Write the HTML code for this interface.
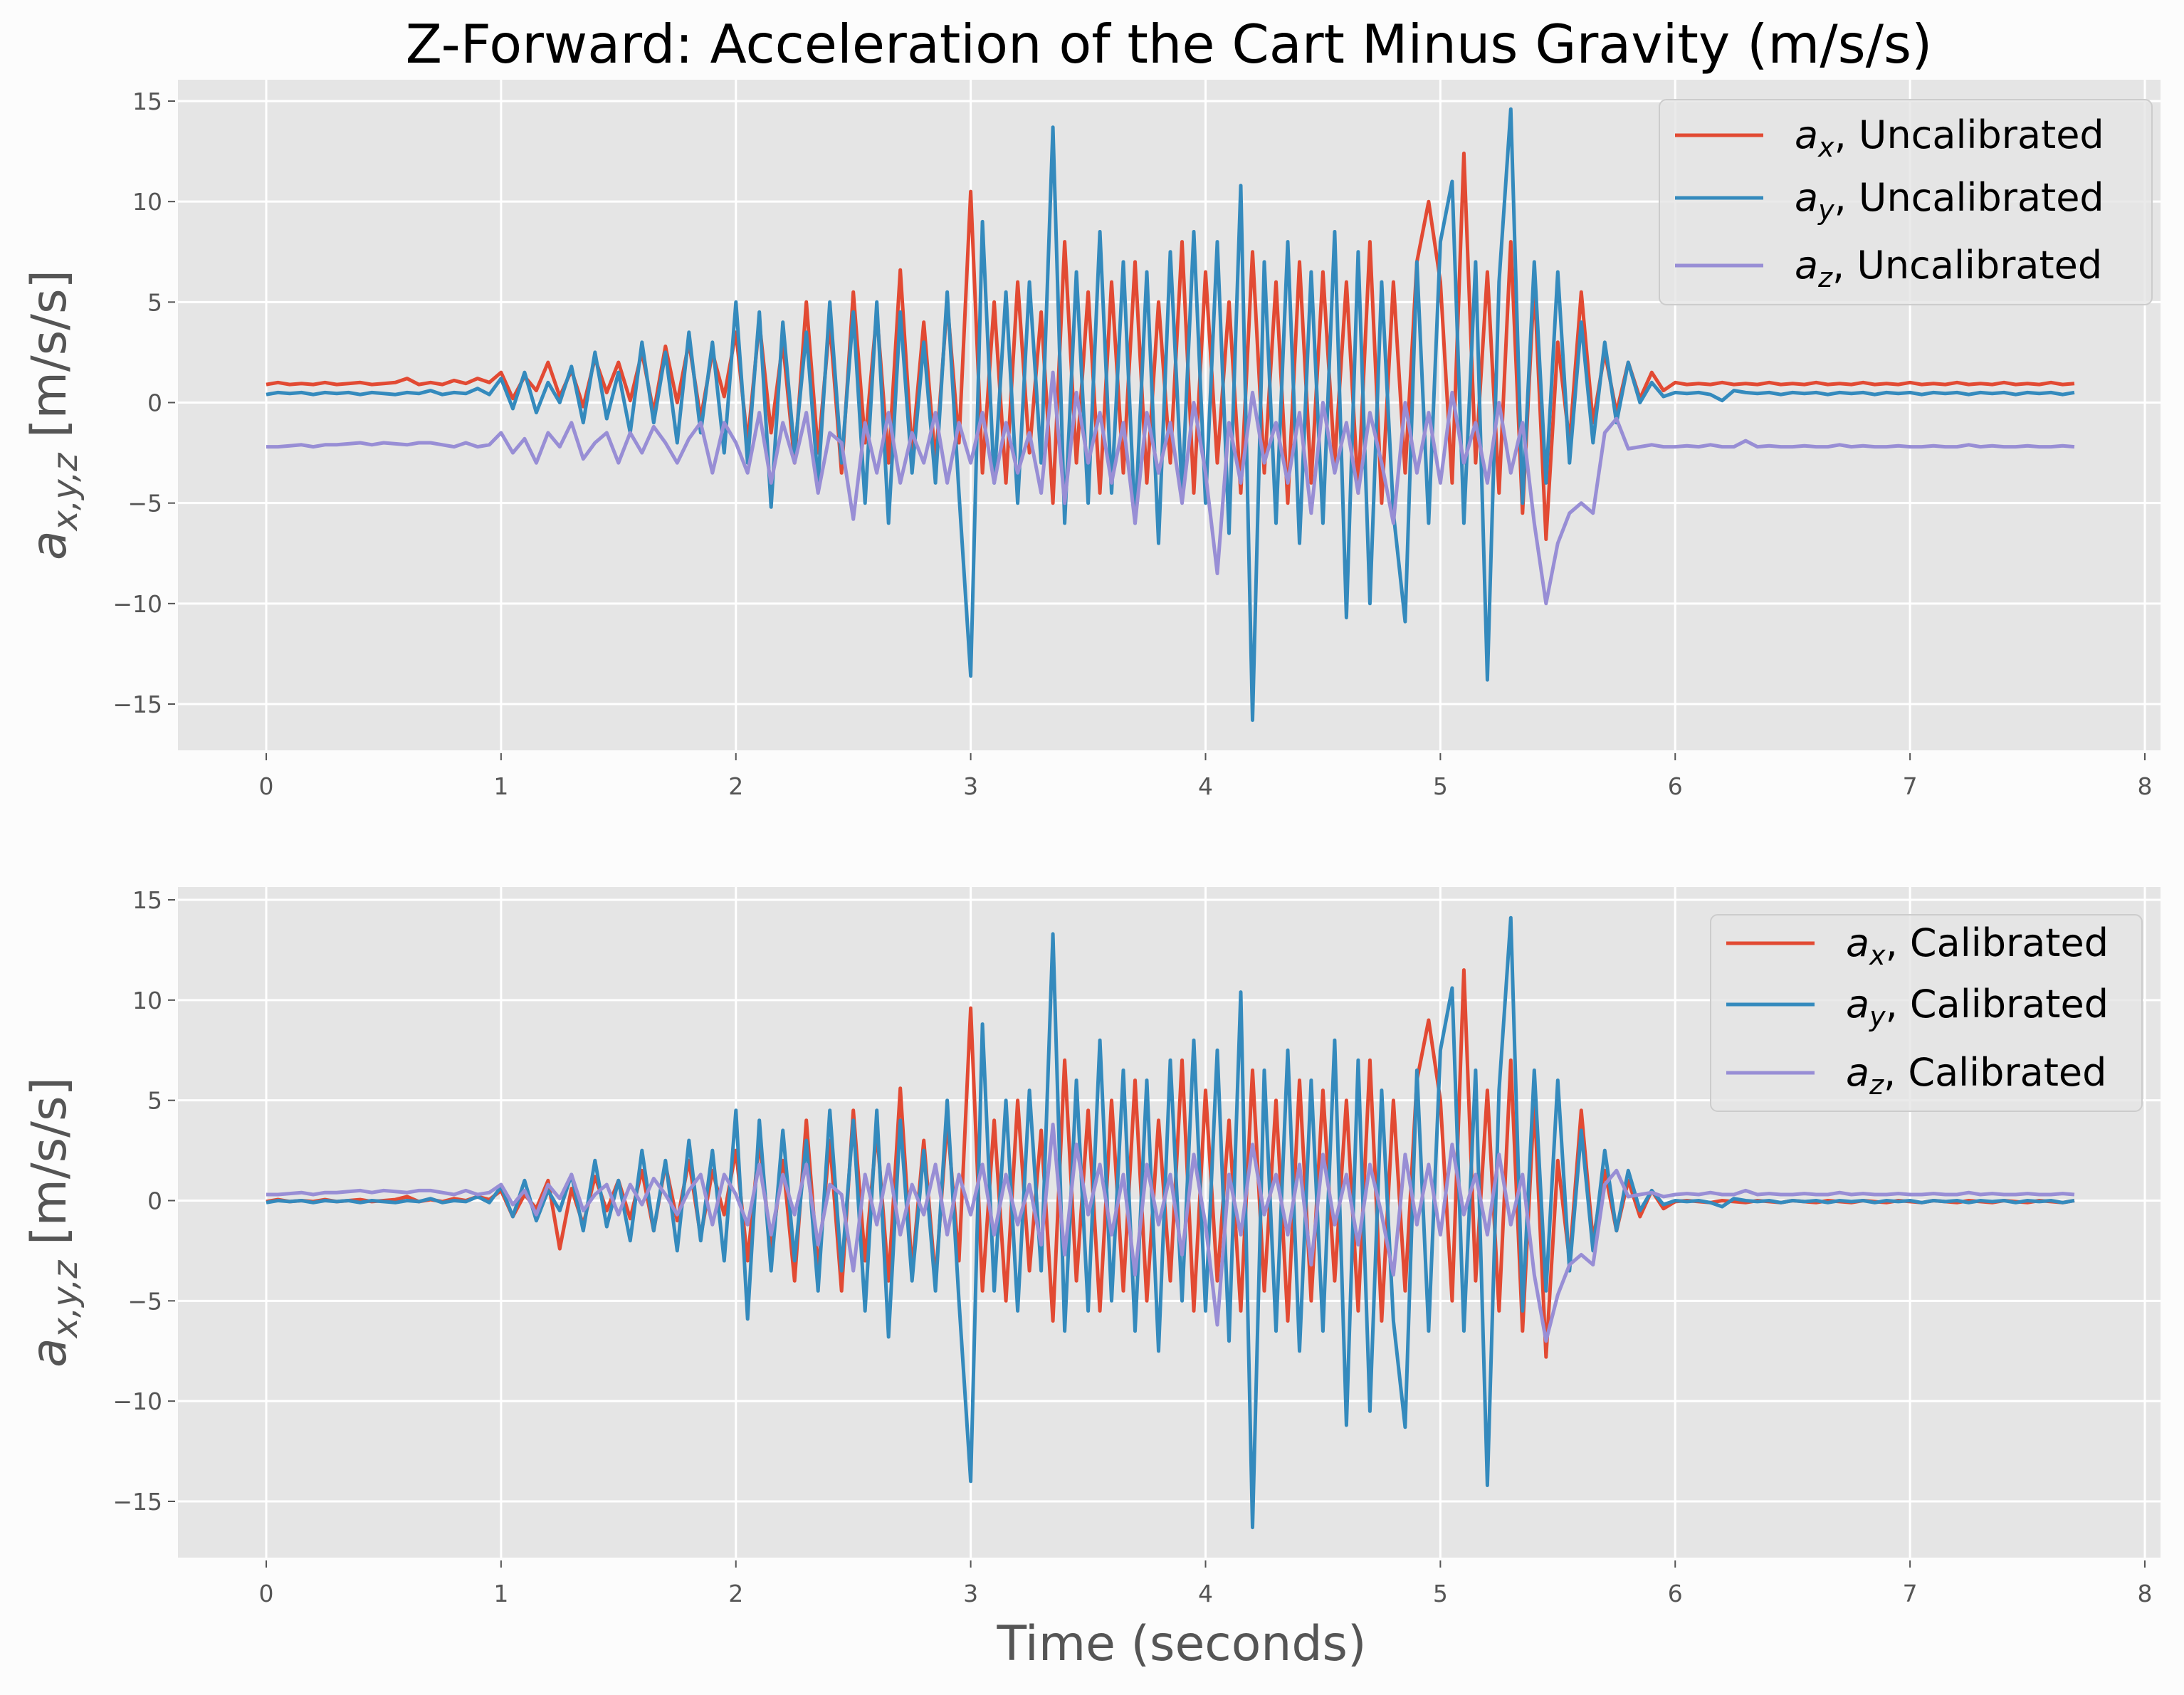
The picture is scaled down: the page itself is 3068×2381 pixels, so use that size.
<!DOCTYPE html>
<html><head><meta charset="utf-8"><style>
html,body{margin:0;padding:0;background:#fcfcfc;}
svg{display:block;font-family:"DejaVu Sans","Liberation Sans",sans-serif;}
</style></head><body>
<svg id="fig" width="3068" height="2381" viewBox="0 0 3068 2381">
<rect width="3068" height="2381" fill="#fcfcfc"/>
<text x="1642" y="88" font-size="75" text-anchor="middle" fill="#000">Z-Forward: Acceleration of the Cart Minus Gravity (m/s/s)</text>
<g id="ax1"></g>
<g id="ax2"></g>
<text x="1660" y="2332" font-size="68" text-anchor="middle" fill="#555">Time (seconds)</text>
</svg>
<script>
const t0 = 0;
const dt = 0.05;
const xTicks = [0,1,2,3,4,5,6,7,8];
const yTicks = [15,10,5,0,-5,-10,-15];
const seriesNamesTop = ["x","y","z"];
const legendSuffixTop = "Uncalibrated";
const legendSuffixBottom = "Calibrated";

const axTop = [0.9,1.0,0.9,0.95,0.9,1.0,0.9,0.95,1.0,0.9,0.95,1.0,1.2,0.9,1.0,0.9,1.1,0.95,1.2,1.0,
1.5,0.2,1.3,0.6,2.0,0.3,1.6,-0.2,2.2,0.5,2.0,0.1,2.5,-0.5,2.8,0.0,3.0,-0.8,2.5,0.3,
3.5,-2.0,4.0,-1.5,3.0,-3.0,5.0,-2.5,4.0,-3.5,5.5,-2.0,4.5,-3.0,6.6,-2.5,4.0,-3.0,5.0,-2.0,
10.5,-3.5,5.0,-4.0,6.0,-2.5,4.5,-5.0,8.0,-3.0,5.5,-4.5,6.0,-3.5,7.0,-4.0,5.0,-3.0,8.0,-4.5,
6.5,-3.0,5.0,-4.5,7.5,-3.5,6.0,-5.0,7.0,-4.0,6.5,-3.0,6.0,-4.5,8.0,-5.0,6.0,-3.5,7.0,10.0,
6.0,-4.0,12.4,-3.0,6.5,-4.5,8.0,-5.5,6.0,-6.8,3.0,-2.0,5.5,-1.0,2.5,-0.5,2.0,0.2,1.5,0.6,
1.0,0.9,0.95,0.9,1.0,0.9,0.95,0.9,1.0,0.9,0.95,0.9,1.0,0.9,0.95,0.9,1.0,0.9,0.95,0.9,
1.0,0.9,0.95,0.9,1.0,0.9,0.95,0.9,1.0,0.9,0.95,0.9,1.0,0.9,0.95];
const ayTop = [0.4,0.5,0.45,0.5,0.4,0.5,0.45,0.5,0.4,0.5,0.45,0.4,0.5,0.45,0.6,0.4,0.5,0.45,0.7,0.4,
1.2,-0.3,1.5,-0.5,1.0,0.0,1.8,-1.0,2.5,-0.8,1.5,-1.5,3.0,-1.0,2.5,-2.0,3.5,-1.5,3.0,-2.5,
5.0,-3.0,4.5,-5.2,4.0,-2.5,3.5,-4.0,5.0,-3.0,4.5,-5.0,5.0,-6.0,4.5,-3.5,3.0,-4.0,5.5,-4.5,
-13.6,9.0,-4.0,5.5,-5.0,6.0,-3.0,13.7,-6.0,6.5,-5.0,8.5,-4.5,7.0,-6.0,6.5,-7.0,7.5,-4.5,8.5,
-5.0,8.0,-6.5,10.8,-15.8,7.0,-6.0,8.0,-7.0,6.5,-6.0,8.5,-10.7,7.5,-10.0,6.0,-5.5,-10.9,7.0,-6.0,
8.0,11.0,-6.0,7.0,-13.8,6.0,14.6,-5.0,7.0,-4.0,6.5,-3.0,4.0,-2.0,3.0,-1.0,2.0,0.0,1.0,0.3,
0.5,0.45,0.5,0.4,0.1,0.6,0.5,0.45,0.5,0.4,0.5,0.45,0.5,0.4,0.5,0.45,0.5,0.4,0.5,0.45,
0.5,0.4,0.5,0.45,0.5,0.4,0.5,0.45,0.5,0.4,0.5,0.45,0.5,0.4,0.5];
const azTop = [-2.2,-2.2,-2.15,-2.1,-2.2,-2.1,-2.1,-2.05,-2.0,-2.1,-2.0,-2.05,-2.1,-2.0,-2.0,-2.1,-2.2,-2.0,-2.2,-2.1,
-1.5,-2.5,-1.8,-3.0,-1.5,-2.2,-1.0,-2.8,-2.0,-1.5,-3.0,-1.5,-2.5,-1.2,-2.0,-3.0,-1.8,-1.0,-3.5,-1.0,
-2.0,-3.5,-0.5,-4.0,-1.0,-3.0,-0.5,-4.5,-1.5,-2.0,-5.8,-1.0,-3.5,-0.5,-4.0,-1.5,-3.0,-0.5,-4.0,-1.0,
-3.0,-0.5,-4.0,-1.0,-3.5,-1.5,-4.5,1.5,-5.0,0.5,-3.0,-0.5,-4.0,-1.0,-6.0,-0.5,-3.5,-1.0,-5.0,0.0,
-3.5,-8.5,-1.0,-4.0,0.5,-3.0,-1.0,-4.0,-0.5,-5.5,0.0,-3.5,-1.0,-4.5,-0.5,-3.0,-6.0,0.0,-3.5,-0.5,
-4.0,0.5,-3.0,-1.0,-4.0,0.0,-3.5,-1.0,-6.0,-10.0,-7.0,-5.5,-5.0,-5.5,-1.5,-0.8,-2.3,-2.2,-2.1,-2.2,
-2.2,-2.15,-2.2,-2.1,-2.2,-2.2,-1.9,-2.2,-2.15,-2.2,-2.2,-2.15,-2.2,-2.2,-2.1,-2.2,-2.15,-2.2,-2.2,-2.15,
-2.2,-2.2,-2.15,-2.2,-2.2,-2.1,-2.2,-2.15,-2.2,-2.2,-2.15,-2.2,-2.2,-2.15,-2.2];

const axBot = [-0.05,0.05,-0.05,0,-0.05,0.05,-0.05,0,0.05,-0.05,0,0.05,0.2,-0.05,0.05,-0.05,0.1,0,0.2,0.05,
0.5,-0.8,0.3,-0.4,1.0,-2.4,0.6,-1.2,1.2,-0.5,1.0,-0.9,1.5,-1.5,1.8,-1.0,2.0,-1.8,1.5,-0.7,
2.5,-3.0,3.0,-2.5,2.0,-4.0,4.0,-3.5,3.0,-4.5,4.5,-3.0,3.5,-4.0,5.6,-3.5,3.0,-4.0,4.0,-3.0,
9.6,-4.5,4.0,-5.0,5.0,-3.5,3.5,-6.0,7.0,-4.0,4.5,-5.5,5.0,-4.5,6.0,-5.0,4.0,-4.0,7.0,-5.5,
5.5,-4.0,4.0,-5.5,6.5,-4.5,5.0,-6.0,6.0,-5.0,5.5,-4.0,5.0,-5.5,7.0,-6.0,5.0,-4.5,6.0,9.0,
5.0,-5.0,11.5,-4.0,5.5,-5.5,7.0,-6.5,5.0,-7.8,2.0,-3.0,4.5,-2.0,1.5,-1.5,1.0,-0.8,0.5,-0.4,
-0.05,0,-0.05,-0.1,0,-0.05,-0.1,0,-0.05,-0.1,0,-0.05,-0.1,0,-0.05,-0.1,0,-0.05,-0.1,0,
-0.05,-0.1,0,-0.05,-0.1,0,-0.05,-0.1,0,-0.05,-0.1,0,-0.05,-0.1,0];
const ayBot = [-0.1,0,-0.05,0,-0.1,0,-0.05,0,-0.1,0,-0.05,-0.1,0,-0.05,0.1,-0.1,0,-0.05,0.2,-0.1,
0.7,-0.8,1.0,-1.0,0.5,-0.5,1.3,-1.5,2.0,-1.3,1.0,-2.0,2.5,-1.5,2.0,-2.5,3.0,-2.0,2.5,-3.0,
4.5,-5.9,4.0,-3.5,3.5,-3.0,3.0,-4.5,4.5,-3.5,4.0,-5.5,4.5,-6.8,4.0,-4.0,2.5,-4.5,5.0,-5.0,
-14.0,8.8,-4.5,5.0,-5.5,5.5,-3.5,13.3,-6.5,6.0,-5.5,8.0,-5.0,6.5,-6.5,6.0,-7.5,7.0,-5.0,8.0,
-5.5,7.5,-7.0,10.4,-16.3,6.5,-6.5,7.5,-7.5,6.0,-6.5,8.0,-11.2,7.0,-10.5,5.5,-6.0,-11.3,6.5,-6.5,
7.5,10.6,-6.5,6.5,-14.2,5.5,14.1,-5.5,6.5,-4.5,6.0,-3.5,3.5,-2.5,2.5,-1.5,1.5,-0.5,0.5,-0.2,
0,-0.05,0,-0.1,-0.3,0.1,0,-0.05,0,-0.1,0,-0.05,0,-0.1,0,-0.05,0,-0.1,0,-0.05,
0,-0.1,0,-0.05,0,-0.1,0,-0.05,0,-0.1,0,-0.05,0,-0.1,0];
const azBot = [0.3,0.3,0.35,0.4,0.3,0.4,0.4,0.45,0.5,0.4,0.5,0.45,0.4,0.5,0.5,0.4,0.3,0.5,0.3,0.4,
0.8,-0.2,0.5,-0.7,0.8,0.1,1.3,-0.5,0.3,0.8,-0.7,0.8,-0.2,1.1,0.3,-0.7,0.5,1.3,-1.2,1.3,
0.3,-1.2,1.8,-1.7,1.3,-0.7,1.8,-2.2,0.8,0.3,-3.5,1.3,-1.2,1.8,-1.7,0.8,-0.7,1.8,-1.7,1.3,
-0.7,1.8,-1.7,1.3,-1.2,0.8,-2.2,3.8,-2.7,2.8,-0.7,1.8,-1.7,1.3,-3.7,1.8,-1.2,1.3,-2.7,2.3,
-1.2,-6.2,1.3,-1.7,2.8,-0.7,1.3,-1.7,1.8,-3.2,2.3,-1.2,1.3,-2.2,1.8,-0.7,-3.7,2.3,-1.2,1.8,
-1.7,2.8,-0.7,1.3,-1.7,2.3,-1.2,1.3,-3.7,-7.0,-4.7,-3.2,-2.7,-3.2,0.8,1.5,0.2,0.3,0.4,0.2,
0.3,0.35,0.3,0.4,0.3,0.3,0.5,0.3,0.35,0.3,0.3,0.35,0.3,0.3,0.4,0.3,0.35,0.3,0.3,0.35,
0.3,0.3,0.35,0.3,0.3,0.4,0.3,0.35,0.3,0.3,0.35,0.3,0.3,0.35,0.3];

const NS = "http://www.w3.org/2000/svg";
const colors = ["#E24A33","#348ABD","#988ED5"];
const xL = 250, xR = 3035, x0px = 374, x8px = 3013;
function xScale(t){ return x0px + (t - 0) * (x8px - x0px) / 8; }
function mk(tag, attrs, parent){ const e = document.createElementNS(NS, tag); for (const k in attrs) e.setAttribute(k, attrs[k]); parent.appendChild(e); return e; }

function drawAxes(g, top, bottom, y15, yM15, series, suffix, leg, id){
  const yScale = v => y15 + (15 - v) * (yM15 - y15) / 30;
  const bg = mk("rect", {x:xL, y:top, width:xR-xL, height:bottom-top, fill:"#e5e5e5"}, g);
  
  
  const clip = mk("clipPath", {id:"clip"+id}, g);
  mk("rect", {x:xL, y:top, width:xR-xL, height:bottom-top}, clip);
  yTicks.forEach(v => {
    const y = yScale(v);
    const gl = mk("line", {x1:xL, x2:xR, y1:y, y2:y, stroke:"#fff", "stroke-width":3}, g);
    
    
    mk("line", {x1:xL-14, x2:xL-4, y1:y, y2:y, stroke:"#555", "stroke-width":2}, g);
    const tl = mk("text", {x:xL-22, y:y+12, "font-size":33, "text-anchor":"end", fill:"#555"}, g);
    tl.textContent = v < 0 ? "\u2212" + Math.abs(v) : String(v);
    
    
  });
  xTicks.forEach(v => {
    const x = xScale(v);
    const gl = mk("line", {x1:x, x2:x, y1:top, y2:bottom, stroke:"#fff", "stroke-width":3}, g);
    
    
    mk("line", {x1:x, x2:x, y1:bottom+4, y2:bottom+14, stroke:"#555", "stroke-width":2}, g);
    const tl = mk("text", {x:x, y:bottom+62, "font-size":33, "text-anchor":"middle", fill:"#555"}, g);
    tl.textContent = String(v);
    
    
  });
  const lines = mk("g", {"clip-path":"url(#clip"+id+")"}, g);
  series.forEach((arr, si) => {
    let d = "";
    arr.forEach((v, i) => { d += (i ? "L" : "M") + xScale(t0 + i*dt).toFixed(1) + "," + yScale(v).toFixed(1); });
    const p = mk("path", {d:d, fill:"none", stroke:colors[si], "stroke-width":5, "stroke-linejoin":"round"}, lines);
    
    
  });
  const cy = (top + bottom) / 2;
  const yl = mk("text", {x:0, y:0, "font-size":68, "text-anchor":"middle", fill:"#555", transform:"translate(92,"+cy+") rotate(-90)"}, g);
  yl.innerHTML = '<tspan font-style="italic">a</tspan><tspan font-style="italic" font-size="48" dy="16">x,y,z</tspan><tspan dy="-16"> [m/s/s]</tspan>';
  
  
  const lg = mk("g", {}, g);
  
  
  mk("rect", {x:leg.x, y:leg.y, width:leg.w, height:leg.h, rx:10, fill:"#e5e5e5", "fill-opacity":0.8, stroke:"#cccccc", "stroke-width":2}, lg);
  leg.rows.forEach((ry, si) => {
    const e = mk("g", {}, lg);
    
    
    mk("line", {x1:leg.x+22, x2:leg.x+146, y1:ry, y2:ry, stroke:colors[si], "stroke-width":5}, e);
    const t = mk("text", {x:leg.x+190, y:ry+18, "font-size":54, fill:"#000"}, e);
    t.innerHTML = '<tspan font-style="italic">a</tspan><tspan font-style="italic" font-size="38" dy="12">' + seriesNamesTop[si] + '</tspan><tspan dy="-12">, ' + suffix + '</tspan>';
  });
}
drawAxes(document.getElementById("ax1"), 112, 1054, 142, 989, [axTop, ayTop, azTop], legendSuffixTop,
  {x:2331, y:140, w:692, h:288, rows:[190,278,373]}, 1);
drawAxes(document.getElementById("ax2"), 1246, 2188, 1264, 2109, [axBot, ayBot, azBot], legendSuffixBottom,
  {x:2403, y:1285, w:606, h:276, rows:[1325,1411,1507]}, 2);
</script>
</body></html>
